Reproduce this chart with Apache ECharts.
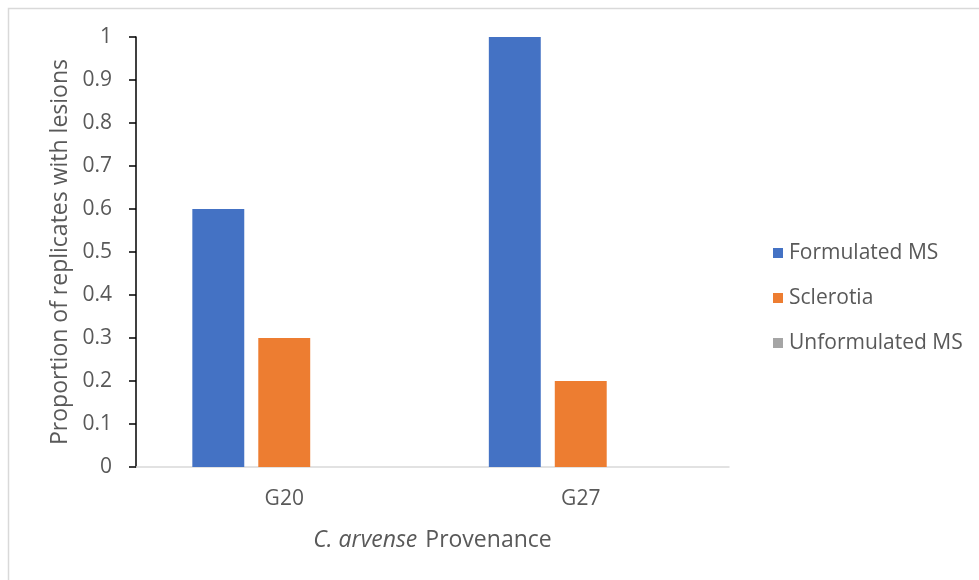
<!DOCTYPE html>
<html>
<head>
<meta charset="utf-8">
<script src="https://cdn.jsdelivr.net/npm/echarts@6/dist/echarts.min.js"></script>
<style>
  html, body { margin: 0; padding: 0; background: #fff; }
  #chart { width: 979px; height: 580px; }
</style>
</head>
<body>
<div id="chart"></div>
<script>
// Lesion data by Cirsium arvense provenance
const categories = ['G20', 'G27'];
const seriesNames = ['Formulated MS', 'Sclerotia', 'Unformulated MS'];
const formulatedMS = [0.6, 1.0];
const sclerotia = [0.3, 0.2];
const unformulatedMS = [0, 0];
const yTicks = [0, 0.1, 0.2, 0.3, 0.4, 0.5, 0.6, 0.7, 0.8, 0.9, 1];

const colors = ['#4472c4', '#ed7d31', '#a5a5a5'];
const font = '"Open Sans", sans-serif';
const textColor = '#595959';

const chart = echarts.init(document.getElementById('chart'), null, { renderer: 'canvas' });

function barSeries(name, data, color) {
  return {
    name: name,
    type: 'bar',
    data: data,
    itemStyle: { color: color },
    barGap: '27%',
    barCategoryGap: '38%'
  };
}

chart.setOption({
  animation: false,
  backgroundColor: '#fff',
  color: colors,
  graphic: [{
    type: 'rect',
    shape: { x: 8.5, y: 8.5, width: 1200, height: 1200 },
    style: { fill: 'none', stroke: '#d9d9d9', lineWidth: 1.5 },
    silent: true
  }],
  grid: { left: 136, right: 250, top: 37, bottom: 113 },
  legend: {
    orient: 'vertical',
    left: 768,
    top: 236,
    itemWidth: 10,
    itemHeight: 10,
    itemGap: 21,
    icon: 'rect',
    data: seriesNames,
    textStyle: { fontFamily: font, fontSize: 21, color: textColor, lineHeight: 24, padding: [0, 0, 0, 1] }
  },
  xAxis: {
    type: 'category',
    data: categories,
    name: '{i|C. arvense}{n| Provenance}',
    nameLocation: 'middle',
    nameGap: 62,
    nameTextStyle: {
      rich: {
        i: { fontFamily: font, fontSize: 23, color: textColor, fontStyle: 'italic' },
        n: { fontFamily: font, fontSize: 23, color: textColor, padding: [0, 0, 0, 2] }
      }
    },
    axisLine: { lineStyle: { color: '#d9d9d9', width: 1.5 } },
    axisTick: { show: false },
    axisLabel: { fontFamily: font, fontSize: 21, color: textColor, margin: 22 }
  },
  yAxis: {
    type: 'value',
    min: 0,
    max: 1,
    interval: 0.1,
    name: 'Proportion of replicates with lesions',
    nameLocation: 'middle',
    nameGap: 63,
    nameTextStyle: { fontFamily: font, fontSize: 23, color: textColor },
    axisLine: { show: true, lineStyle: { color: '#000', width: 1.5 } },
    axisTick: { show: true, length: 7, lineStyle: { color: '#000', width: 1.5 } },
    splitLine: { show: false },
    axisLabel: {
      fontFamily: font, fontSize: 21, color: textColor, margin: 24,
      formatter: function (v) {
        const t = yTicks.find(function (k) { return Math.abs(k - v) < 1e-9; });
        return t === undefined ? '' : String(t);
      }
    }
  },
  series: [
    barSeries(seriesNames[0], formulatedMS, colors[0]),
    barSeries(seriesNames[1], sclerotia, colors[1]),
    barSeries(seriesNames[2], unformulatedMS, colors[2])
  ]
});
</script>
</body>
</html>
